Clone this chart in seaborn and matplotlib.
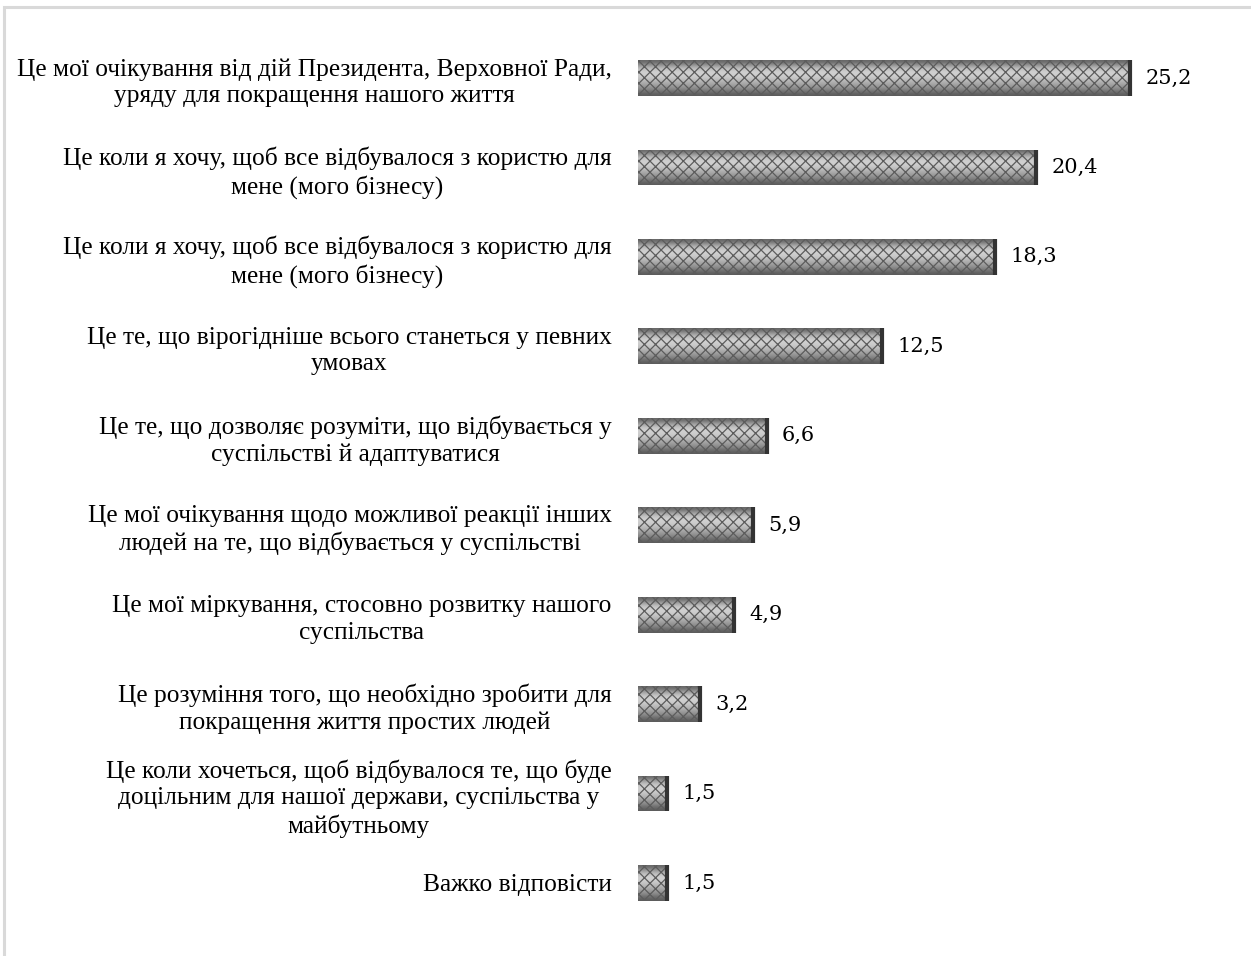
import numpy as np
import pandas as pd
import matplotlib
matplotlib.use("Agg")
import matplotlib.pyplot as plt
import seaborn as sns
from matplotlib.patches import Rectangle

# answers, top to bottom (two identical wordings in the source)
labels = [
    "Це мої очікування від дій Президента, Верховної Ради,\nуряду для покращення нашого життя",
    "Це коли я хочу, щоб все відбувалося з користю для\nмене (мого бізнесу)",
    "Це коли я хочу, щоб все відбувалося з користю для\nмене (мого бізнесу)",
    "Це те, що вірогідніше всього станеться у певних\nумовах",
    "Це те, що дозволяє розуміти, що відбувається у\nсуспільстві й адаптуватися",
    "Це мої очікування щодо можливої реакції інших\nлюдей на те, що відбувається у суспільстві",
    "Це мої міркування, стосовно розвитку нашого\nсуспільства",
    "Це розуміння того, що необхідно зробити для\nпокращення життя простих людей",
    "Це коли хочеться, щоб відбувалося те, що буде\nдоцільним для нашої держави, суспільства у\nмайбутньому",
    "Важко відповісти",
]
values = [25.2, 20.4, 18.3, 12.5, 6.6, 5.9, 4.9, 3.2, 1.5, 1.5]


def main():
    sns.set_style("white")
    plt.rcParams["font.family"] = ["Liberation Serif", "DejaVu Serif"]
    plt.rcParams["hatch.linewidth"] = 0.9

    # unique keys so seaborn doesn't merge the duplicated answers
    df = pd.DataFrame({"key": ["a%d" % i for i in range(len(values))], "value": values})

    fig = plt.figure(figsize=(12.51, 9.56), dpi=100)
    ax = fig.add_axes([0.51, 0.0296, 0.468, 0.9356])

    sns.barplot(data=df, x="value", y="key", orient="h", width=0.4,
                color="#9a9a9a", ax=ax, zorder=2)

    # cylinder look: vertical grey gradient under a fine cross hatch
    grad = np.array([0.40, 0.60, 0.76, 0.82, 0.80, 0.74, 0.66, 0.58, 0.48, 0.36]).reshape(-1, 1)
    for bar in ax.patches:
        x0, y0 = bar.get_x(), bar.get_y()
        w, h = bar.get_width(), bar.get_height()
        im = ax.imshow(grad, cmap="gray", vmin=0, vmax=1, aspect="auto",
                       extent=(x0, x0 + w, y0 + h, y0), interpolation="bicubic", zorder=1)
        im.set_clip_path(bar)
        bar.set_facecolor("none")
        bar.set_edgecolor("#5c5c5c")
        bar.set_linewidth(0)
        bar.set_hatch("xxx")
        # darker cap on the right end
        ax.plot([x0 + w, x0 + w], [y0, y0 + h], color="#333333", lw=3, zorder=3,
                solid_capstyle="butt")

    ax.bar_label(ax.containers[0], labels=[f"{v:.1f}".replace(".", ",") for v in values],
                 padding=11, fontsize=15, family="DejaVu Serif", color="black")

    ax.set_xlim(0, 30)
    ax.set_ylim(len(values) - 0.5, -0.5)
    ax.set_yticks(range(len(values)))
    ax.set_yticklabels(labels, fontsize=18.3, multialignment="center",
                       linespacing=1.27, color="black")
    ax.tick_params(axis="y", length=0, pad=19)
    ax.set_xticks([])
    ax.set_xlabel("")
    ax.set_ylabel("")
    sns.despine(ax=ax, left=True, bottom=True)

    # light grey frame, cut at the right and bottom edges like the source
    fig.patches.append(Rectangle((0.0032, -0.05), 1.2, 1.0427, transform=fig.transFigure,
                                 fill=False, edgecolor="#d9d9d9", linewidth=2.2))

    fig.savefig("out.png", dpi=100)


if __name__ == "__main__":
    main()
